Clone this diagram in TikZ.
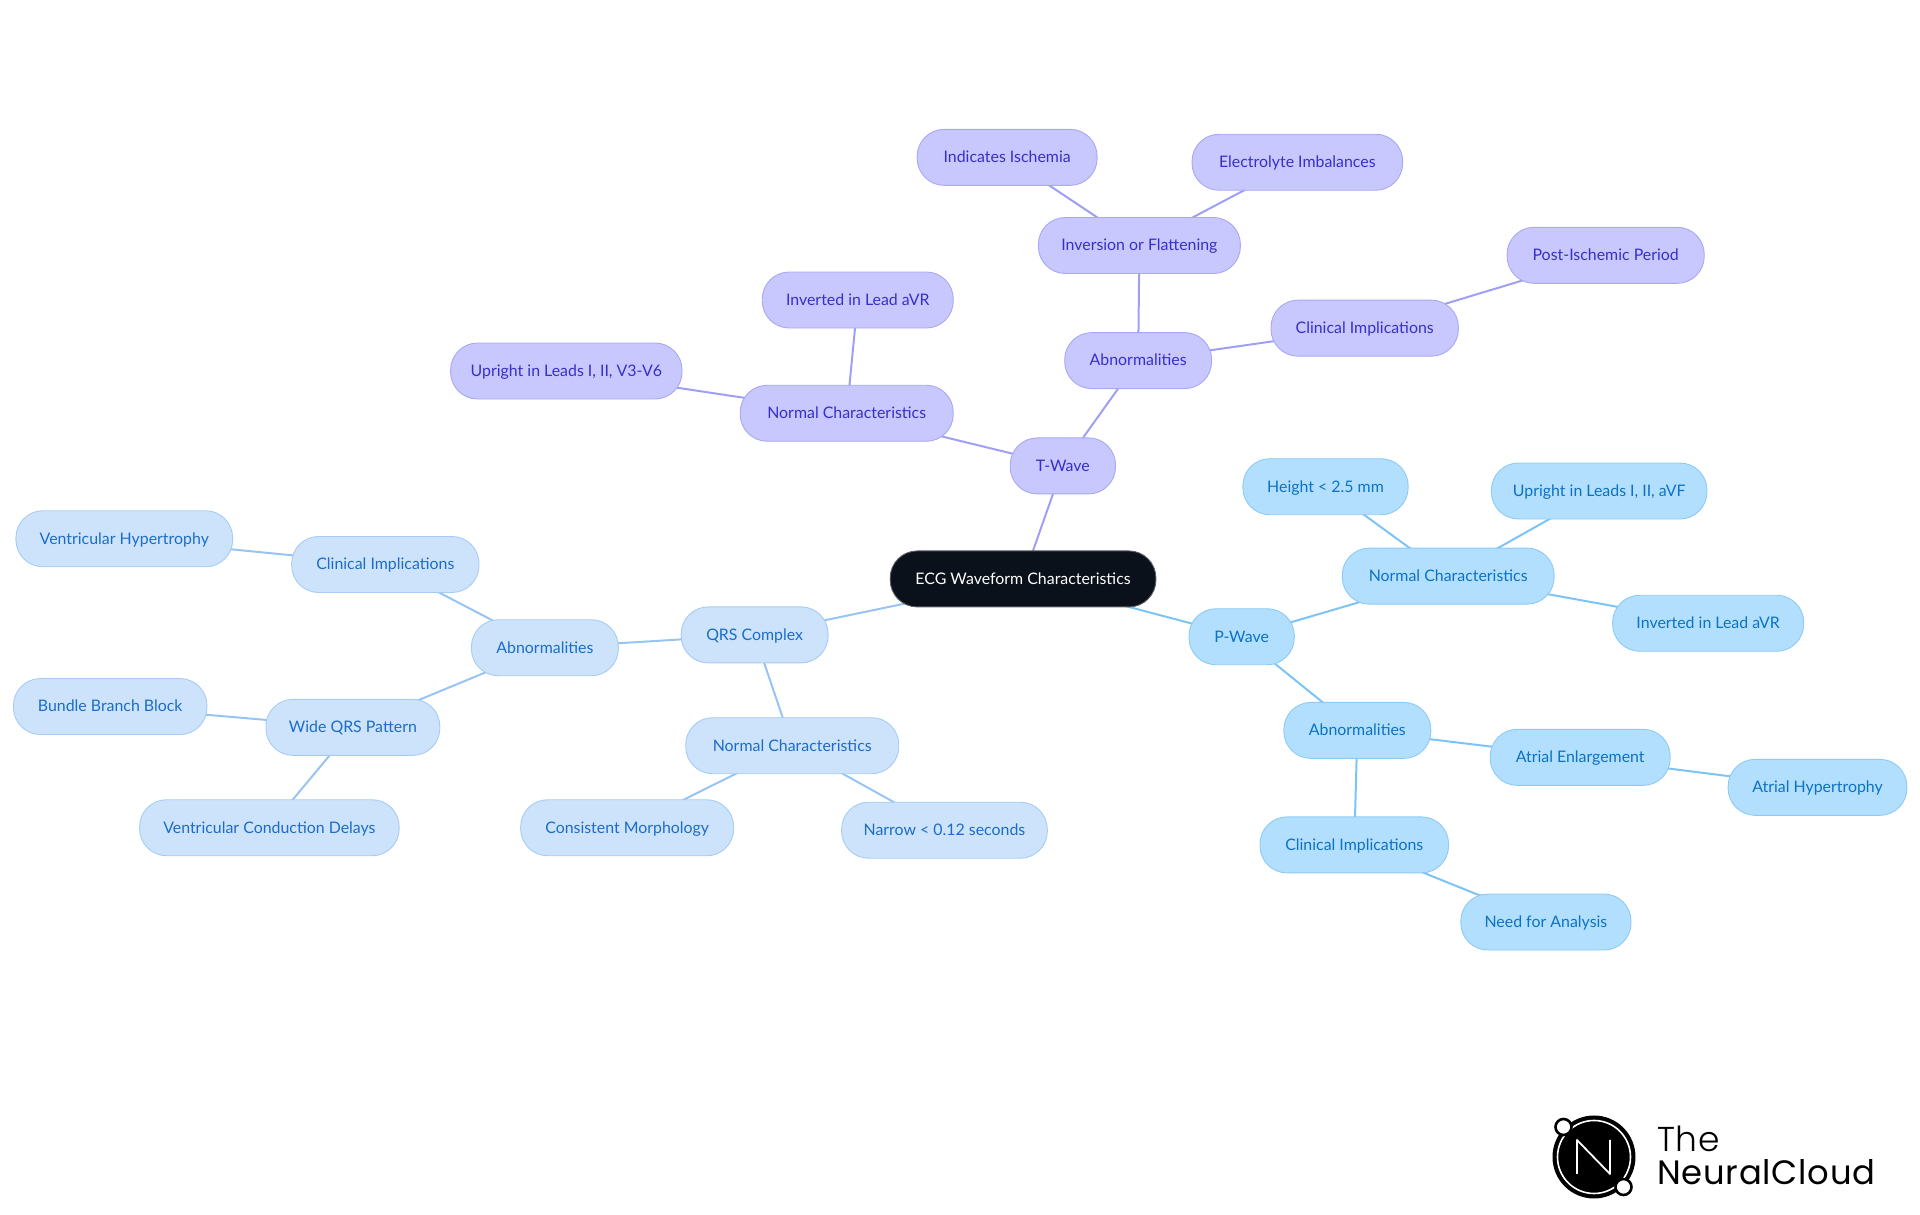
\documentclass[tikz,border=0pt]{standalone}
\usepackage{fontspec}
\setmainfont{Lato}
\newfontfamily\logofont[LetterSpace=2]{Poppins Light}
\newfontfamily\logofontb[LetterSpace=2.2]{Poppins}
\usetikzlibrary{backgrounds}
\definecolor{tfill}{HTML}{C8C8FE}
\definecolor{tline}{HTML}{9F9FF6}
\definecolor{tstroke}{HTML}{A8A8F4}
\definecolor{ttext}{HTML}{3730C8}
\definecolor{pfill}{HTML}{B3DFFE}
\definecolor{pline}{HTML}{7CC4F6}
\definecolor{pstroke}{HTML}{8CCBF6}
\definecolor{ptext}{HTML}{0B72C4}
\definecolor{qfill}{HTML}{CDE3FC}
\definecolor{qline}{HTML}{98C4F4}
\definecolor{qstroke}{HTML}{A6CCF5}
\definecolor{qtext}{HTML}{1B6DC8}
\definecolor{rootfill}{HTML}{0B111A}
\tikzset{
  w/.style={minimum width=#1*1.2245pt},
  mm/.style={rounded corners=27pt,minimum height=56pt,inner sep=0pt,font=\fontsize{15.9pt}{18pt}\selectfont,line width=0.9pt,text height=12.8pt,text depth=2.2pt},
  tn/.style={mm,fill=tfill,draw=tstroke,text=ttext},
  pn/.style={mm,fill=pfill,draw=pstroke,text=ptext},
  qn/.style={mm,fill=qfill,draw=qstroke,text=qtext},
  rootn/.style={mm,fill=rootfill,draw=gray!70!rootfill,text=white},
  tedge/.style={draw=tline,line width=2pt},
  pedge/.style={draw=pline,line width=2pt},
  qedge/.style={draw=qline,line width=2pt},
}
\begin{document}
\begin{tikzpicture}[x=1.2245pt,y=-1.2245pt]
\useasboundingbox (0,0) rectangle (1568,992.25);
\node[rootn,w=217] (ecg) at (835.5,472.8) {ECG Waveform Characteristics};
% T-Wave
\node[tn,w=86] (t) at (868,380.5) {T-Wave};
\node[tn,w=174] (tnc) at (691.5,337.5) {Normal Characteristics};
\node[tn,w=189] (tup) at (462.5,303) {Upright in Leads I, II, V3-V6};
\node[tn,w=156] (tinv) at (700.5,245) {Inverted in Lead aVR};
\node[tn,w=120] (tab) at (929.5,294.5) {Abnormalities};
\node[tn,w=165] (tflat) at (930.5,200.5) {Inversion or Flattening};
\node[tn,w=147] (tisch) at (822.5,128.5) {Indicates Ischemia};
\node[tn,w=172] (telec) at (1059.5,132.5) {Electrolyte Imbalances};
\node[tn,w=153] (tcl) at (1114.5,268) {Clinical Implications};
\node[tn,w=161] (tpost) at (1311.3,208.5) {Post-Ischemic Period};
% P-Wave
\node[pn,w=86] (p) at (1014,520) {P-Wave};
\node[pn,w=173] (pnc) at (1182.7,470.5) {Normal Characteristics};
\node[pn,w=135] (ph) at (1082.5,397.5) {Height < 2.5 mm};
\node[pn,w=176] (pup) at (1306,401) {Upright in Leads I, II, aVF};
\node[pn,w=156] (pinv) at (1395,509) {Inverted in Lead aVR};
\node[pn,w=120] (pab) at (1108.5,596.5) {Abnormalities};
\node[pn,w=147] (pae) at (1290.5,618.5) {Atrial Enlargement};
\node[pn,w=146] (pah) at (1484.3,643) {Atrial Hypertrophy};
\node[pn,w=154] (pcl) at (1106,690) {Clinical Implications};
\node[pn,w=139] (pna) at (1262.5,753) {Need for Analysis};
% QRS
\node[qn,w=120] (q) at (616.3,518.5) {QRS Complex};
\node[qn,w=120] (qab) at (445,529) {Abnormalities};
\node[qn,w=153] (qcl) at (314.7,461) {Clinical Implications};
\node[qn,w=177] (qvh) at (101.5,440) {Ventricular Hypertrophy};
\node[qn,w=142] (qwi) at (288.2,594) {Wide QRS Pattern};
\node[qn,w=158] (qbb) at (90,577) {Bundle Branch Block};
\node[qn,w=212] (qvc) at (220,676) {Ventricular Conduction Delays};
\node[qn,w=174] (qnc) at (647,609) {Normal Characteristics};
\node[qn,w=174] (qcm) at (512.2,676) {Consistent Morphology};
\node[qn,w=168] (qna) at (771.3,678) {Narrow < 0.12 seconds};
\begin{scope}[on background layer]
\foreach \a/\b in {ecg/t,t/tnc,tnc/tup,tnc/tinv,t/tab,tab/tflat,tflat/tisch,tflat/telec,tab/tcl,tcl/tpost}
  \draw[tedge] (\a.center) -- (\b.center);
\foreach \a/\b in {ecg/p,p/pnc,pnc/ph,pnc/pup,pnc/pinv,p/pab,pab/pae,pae/pah,pab/pcl,pcl/pna}
  \draw[pedge] (\a.center) -- (\b.center);
\foreach \a/\b in {ecg/q,q/qab,qab/qcl,qcl/qvh,qab/qwi,qwi/qbb,qwi/qvc,q/qnc,qnc/qcm,qnc/qna}
  \draw[qedge] (\a.center) -- (\b.center);
\end{scope}
% logo
\begin{scope}[x=1pt,y=-1pt]
\fill[black] (1594,1157) circle (41.5);
\draw[white,line width=1.6pt] (1594,1157) circle (36.5);
\draw[white,line width=1.8pt,line join=round] (1577,1174) -- (1577,1140) -- (1610,1174) -- (1610,1140);
\filldraw[fill=white,draw=black,line width=2.6pt] (1563.5,1127) circle (8);
\filldraw[fill=white,draw=black,line width=2.6pt] (1623.5,1187) circle (8);
\node[anchor=base west,inner sep=0pt,font=\logofont\fontsize{34.5pt}{34pt}\selectfont] (logot) at (1657,1152) {The};
\node[anchor=base west,inner sep=0pt,font=\logofontb\fontsize{33.8pt}{34pt}\selectfont] (logon) at (1657,1185) {NeuralCloud};
\end{scope}
\end{tikzpicture}
\end{document}
